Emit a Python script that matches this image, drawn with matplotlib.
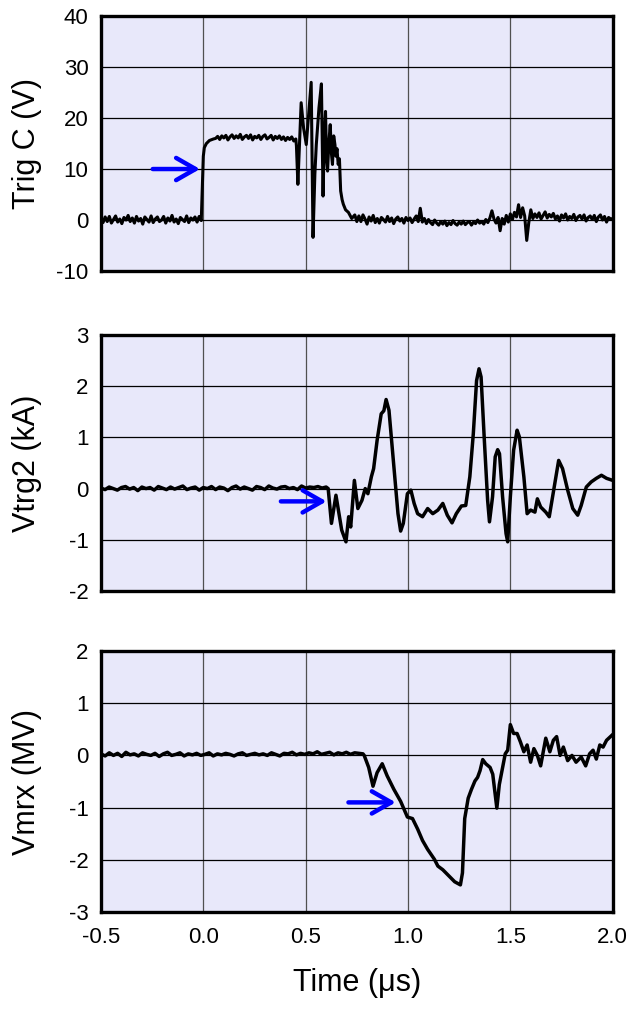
import numpy as np
import matplotlib
matplotlib.use('Agg')
import matplotlib.pyplot as plt

plt.rcParams['font.family'] = ['Liberation Sans', 'DejaVu Sans']
plt.rcParams['axes.unicode_minus'] = False

# ---- panel 1: Trig C (V) ----
trig_v_pre = [0.3, -0.5, 0.6, -0.3, 0.7, -0.6, 0.1, 0.8, -0.4, 0.2, -0.7, 0.5, 0.0, 0.9, -0.3,
              0.4, -0.6, 0.7, -0.2, 0.3, -0.8, 0.6, 0.1, -0.4, 0.8, -0.5, 0.2, 0.6, -0.3, 0.0,
              0.7, -0.6, 0.4, -0.2, 0.9, -0.4, 0.2, -0.7, 0.5, 0.1, -0.3, 0.8, -0.5, 0.4, 0.0,
              0.6, -0.4, 0.7, -0.1]
trig_t_edge = [0.0, 0.005, 0.015, 0.03, 0.05]
trig_v_edge = [12.5, 14.2, 15.0, 15.6, 15.9]
trig_v_flat = [16.0, 16.4, 15.8, 16.5, 16.1, 16.6, 15.7, 16.3, 16.7, 16.0, 16.5, 16.1, 16.8, 15.8,
               16.3, 16.6, 16.0, 16.7, 15.7, 16.4, 16.1, 16.6, 15.8, 16.4, 16.7, 15.9, 16.2, 16.6,
               15.7, 16.4, 16.0, 16.5, 15.8, 16.3, 15.6, 16.2, 15.8, 16.3, 15.5, 15.9]
trig_t_burst = [0.455, 0.462, 0.470, 0.478, 0.490, 0.503, 0.515, 0.527, 0.536, 0.545, 0.552,
                0.565, 0.577, 0.585, 0.591, 0.597, 0.602, 0.607, 0.613, 0.620, 0.626, 0.631,
                0.637, 0.643, 0.648, 0.653, 0.659, 0.665, 0.671, 0.678, 0.684, 0.695, 0.709,
                0.725, 0.740, 0.750]
trig_v_burst = [14.5, 7.0, 15.0, 23.0, 18.0, 14.8, 21.0, 27.0, -3.4, 9.0, 14.8, 22.0, 26.7, 4.7,
                16.0, 21.3, 12.0, 9.6, 15.0, 18.7, 13.0, 10.9, 16.5, 14.8, 12.5, 14.0, 10.9, 12.0,
                5.7, 4.0, 3.1, 2.0, 1.5, 0.3, 1.0, -0.3]
trig_v_post = [0.8, -0.3, 1.0, 0.2, -0.8, 0.6, -0.2, 0.9, -0.5, 0.3,
               -0.6, 0.5, 0.1, -0.4, 0.7, -0.3, 0.4, -0.7, 0.2, 0.6,
               -0.2, 0.3, -0.6, 0.5, -0.1, 0.4, -0.5, 0.2, 0.8, -0.3,
               2.3,
               -0.4, 0.3, -0.7, 0.1, -0.5, -0.9, 0.0, -0.6, -1.0,
               -0.3, -0.8, -0.2, -1.1, -0.5, -0.9, -0.1, -0.7, -1.0, -0.4,
               -0.8, -0.2, -0.9, -0.5, -0.3, -1.0, -0.4, -0.7, 0.0, -0.6,
               -0.3, -0.8, 0.1, -0.5, 0.4,
               1.8, 0.2, -0.6, 0.5, -2.1,
               0.3, -0.8, 0.9, -0.4, 1.2, 0.1, 1.5, 0.6,
               3.0, 0.5, 2.4, 0.8, -4.0, -0.5, 2.0,
               0.3, 1.2, 0.5, 1.4, 0.2, 0.9, 1.6, 0.4, 1.1, 0.6,
               1.3, 0.2, 0.8, -0.2, 1.0, 0.4, 1.2, 0.0, 0.7, 0.3,
               1.1, -0.1, 0.6, 0.9, 0.2, 1.0, -0.2, 0.5, 0.8, 0.1,
               0.9, -0.3, 0.6, 1.0, 0.0, 0.7, -0.4, 0.5, 0.2, 0.3]

# ---- panel 2: Vtrg2 (kA) ----
vtrg_v_pre = [0.01, -0.02, 0.03, 0.0, -0.03, 0.02, 0.04, -0.01, 0.02, -0.04, 0.03, 0.0, 0.02,
              -0.03, 0.04, 0.01, -0.02, 0.03, -0.01, 0.02, 0.05, -0.02, 0.01, 0.03, -0.03, 0.02,
              0.0, 0.04, -0.02, 0.03, 0.01, -0.04, 0.02, 0.05, -0.01, 0.03, 0.0, -0.03, 0.04,
              0.02, -0.02, 0.05, 0.01, -0.01, 0.03, 0.04, 0.0, 0.02, -0.02, 0.05, 0.01, 0.03,
              0.02, 0.04, 0.01, 0.03]
vtrg_t = [0.61, 0.626, 0.648, 0.676, 0.697, 0.71, 0.72, 0.738, 0.755, 0.775, 0.791, 0.804,
          0.821, 0.832, 0.849, 0.869, 0.882, 0.893, 0.907, 0.931, 0.951, 0.964, 0.977, 0.997,
          1.014, 1.03, 1.047, 1.071, 1.096, 1.121, 1.146, 1.17, 1.192, 1.215, 1.236, 1.261,
          1.282, 1.302, 1.319, 1.335, 1.347, 1.357, 1.373, 1.389, 1.398, 1.413, 1.426, 1.438,
          1.447, 1.462, 1.479, 1.487, 1.5, 1.516, 1.533, 1.544, 1.566, 1.582, 1.599, 1.62,
          1.632, 1.648, 1.673, 1.69, 1.714, 1.736, 1.755, 1.78, 1.805, 1.829, 1.846, 1.871,
          1.895, 1.92, 1.945, 1.97, 2.0]
vtrg_v = [0.0, -0.68, -0.13, -0.81, -1.04, -0.55, -0.75, 0.16, -0.39, -0.23, 0.0, -0.1,
          0.23, 0.39, 0.94, 1.46, 1.52, 1.74, 1.53, 0.42, -0.49, -0.83, -0.68, -0.1,
          -0.03, -0.29, -0.49, -0.55, -0.39, -0.49, -0.42, -0.29, -0.52, -0.67, -0.49, -0.34,
          -0.33, 0.23, 1.07, 2.11, 2.34, 2.18, 0.94, -0.23, -0.65, -0.16, 0.62, 0.76,
          0.68, -0.16, -0.88, -1.04, -0.16, 0.75, 1.14, 1.01, 0.23, -0.49, -0.42, -0.46,
          -0.2, -0.36, -0.46, -0.55, 0.03, 0.55, 0.39, -0.03, -0.39, -0.52, -0.33, 0.03,
          0.13, 0.2, 0.26, 0.2, 0.16]

# ---- panel 3: Vmrx (MV) ----
vmrx_v_pre = [0.03, -0.01, 0.05, 0.0, 0.04, -0.02, 0.06, 0.01, 0.03, -0.01, 0.05, 0.02, 0.0,
              0.04, -0.02, 0.03, 0.06, 0.0, 0.02, 0.05, -0.01, 0.03, 0.01, 0.04, 0.0, 0.02,
              0.05, -0.01, 0.03, 0.01, 0.04, 0.02, -0.01, 0.03, 0.05, 0.0, 0.02, 0.04, 0.01,
              0.03, 0.0, 0.05, 0.02, -0.01, 0.04, 0.03, 0.06, 0.01, 0.04, 0.02, 0.05, 0.03,
              0.07, 0.02, 0.04, 0.06, 0.01, 0.05, 0.03, 0.06, 0.02, 0.05, 0.04, 0.03]
vmrx_t = [0.786, 0.808, 0.829, 0.849, 0.874, 0.898, 0.931, 0.964, 0.997, 1.022, 1.047, 1.071,
          1.096, 1.129, 1.146, 1.17, 1.195, 1.228, 1.256, 1.266, 1.277, 1.294, 1.31, 1.327,
          1.34, 1.352, 1.365, 1.38, 1.401, 1.414, 1.426, 1.434, 1.446, 1.462, 1.475, 1.487,
          1.5, 1.516, 1.533, 1.549, 1.566, 1.582, 1.599, 1.615, 1.632, 1.648, 1.673, 1.693,
          1.71, 1.726, 1.743, 1.759, 1.78, 1.801, 1.821, 1.846, 1.868, 1.887, 1.904, 1.92,
          1.937, 1.953, 1.97, 2.0]
vmrx_v = [0.0, -0.23, -0.59, -0.33, -0.16, -0.39, -0.65, -0.88, -1.18, -1.21, -1.41, -1.63,
          -1.8, -1.99, -2.12, -2.19, -2.29, -2.42, -2.48, -2.25, -1.21, -0.82, -0.65, -0.49,
          -0.42, -0.29, -0.08, -0.16, -0.23, -0.36, -0.75, -1.01, -0.56, -0.23, 0.03, 0.1,
          0.59, 0.42, 0.42, 0.26, 0.07, 0.2, -0.13, 0.13, 0.0, -0.2, 0.33, 0.07,
          0.29, 0.36, 0.0, 0.16, -0.1, 0.0, -0.13, -0.03, -0.2, 0.03, 0.1, -0.07,
          0.2, 0.16, 0.29, 0.4]

labels = ['Trig C (V)', 'Vtrg2 (kA)', 'Vmrx (MV)']
ylims = [(-10, 40), (-2, 3), (-3, 2)]
ysteps = [10, 1, 1]
# arrow tail / tip (time, value)
arrows = [((-0.247, 10.0), (-0.016, 10.0)),
          ((0.379, -0.25), (0.602, -0.25)),
          ((0.709, -0.9), (0.94, -0.9))]

t1 = np.concatenate([np.linspace(-0.5, -0.01, len(trig_v_pre)), trig_t_edge,
                     np.linspace(0.06, 0.452, len(trig_v_flat)), trig_t_burst,
                     np.linspace(0.76, 2.0, len(trig_v_post))])
v1 = np.concatenate([trig_v_pre, trig_v_edge, trig_v_flat, trig_v_burst, trig_v_post])
t2 = np.concatenate([np.linspace(-0.5, 0.6, len(vtrg_v_pre)), vtrg_t])
v2 = np.concatenate([vtrg_v_pre, vtrg_v])
t3 = np.concatenate([np.linspace(-0.5, 0.78, len(vmrx_v_pre)), vmrx_t])
v3 = np.concatenate([vmrx_v_pre, vmrx_v])
traces = [(t1, v1, 2.2), (t2, v2, 2.5), (t3, v3, 2.5)]

fig = plt.figure(figsize=(6.31, 10.09), dpi=100)
boxes = [[0.160, 0.7314, 0.811, 0.2527],
         [0.160, 0.4143, 0.811, 0.2537],
         [0.160, 0.0961, 0.811, 0.2587]]

for i, box in enumerate(boxes):
    ax = fig.add_axes(box)
    ax.set_facecolor('#E8E8FA')
    t, v, lw = traces[i]
    ax.plot(t, v, color='black', lw=lw, zorder=3)
    ax.set_xlim(-0.5, 2.0)
    ax.set_ylim(*ylims[i])
    ax.set_xticks(np.arange(-0.5, 2.01, 0.5))
    ax.set_yticks(np.arange(ylims[i][0], ylims[i][1] + 0.01, ysteps[i]))
    ax.grid(axis='x', color='#505050', lw=0.9, zorder=1)
    ax.grid(axis='y', color='black', lw=0.9, zorder=1)
    for s in ax.spines.values():
        s.set_linewidth(2.4)
        s.set_zorder(5)
    ax.tick_params(length=0, labelsize=16, pad=9)
    ax.tick_params(axis='x', pad=11)
    if i < 2:
        ax.set_xticklabels([])
    else:
        ax.set_xticklabels(['-0.5', '0.0', '0.5', '1.0', '1.5', '2.0'])
        ax.set_xlabel('Time (\u03bcs)', fontsize=22)
        ax.xaxis.set_label_coords(0.5, -0.215)
    ax.set_ylabel(labels[i], fontsize=22)
    ax.yaxis.set_label_coords(-0.115, 0.5)
    (xa, ya), (xb, yb) = arrows[i]
    ax.annotate('', xy=(xb, yb), xytext=(xa, ya),
                arrowprops=dict(arrowstyle='->,head_length=0.7,head_width=0.4',
                                color='#0000FF', lw=3.2, shrinkA=0, shrinkB=0,
                                mutation_scale=20),
                zorder=4)

fig.savefig('out.png', dpi=100)
